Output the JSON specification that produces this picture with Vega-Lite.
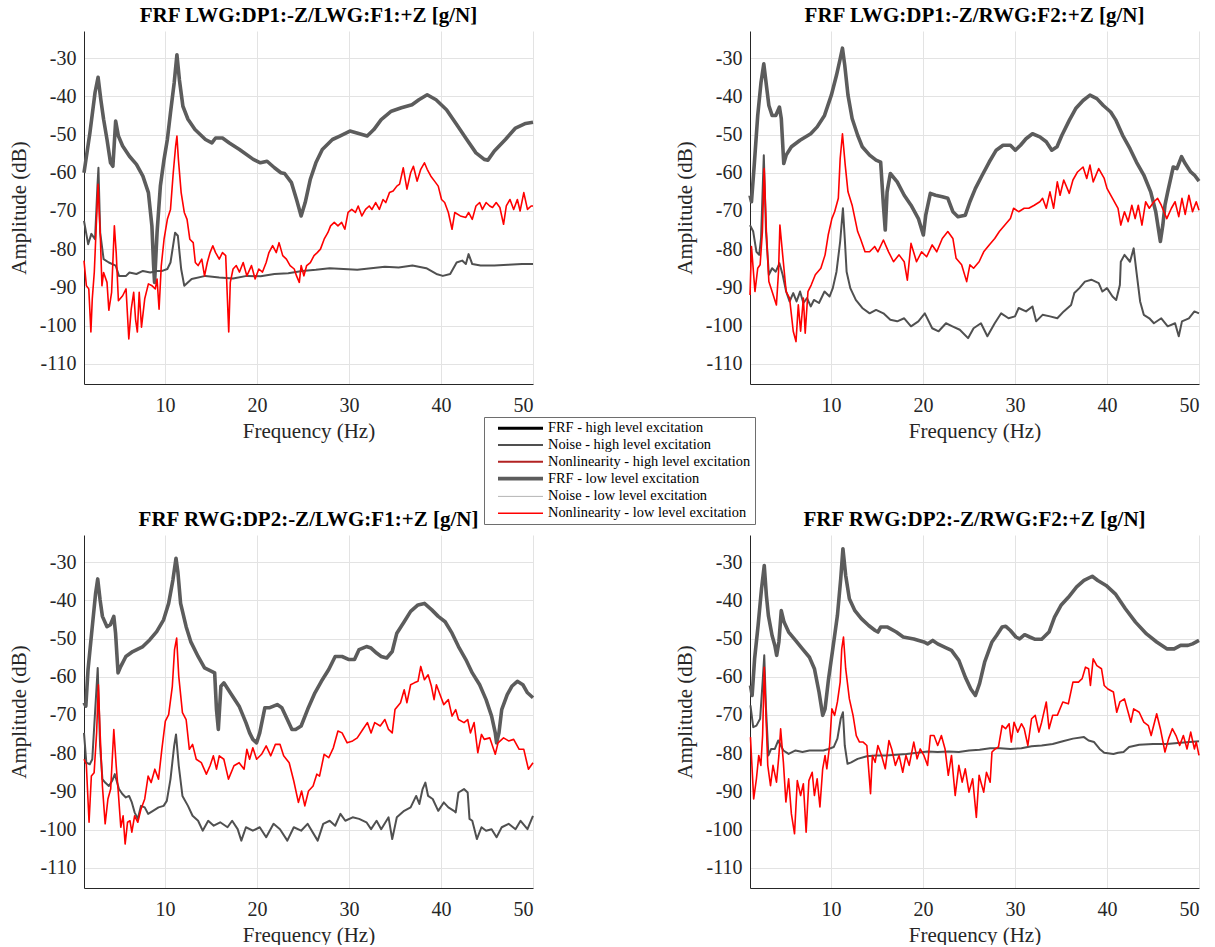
{
"$schema": "https://vega.github.io/schema/vega-lite/v6.json",
"background": "white",
"padding": {"left": 8, "top": 5, "right": 0, "bottom": 0},
"datasets": {
"p1": [
{"s":"FRF_L","f":1.2,"db":-60},{"s":"FRF_L","f":1.84,"db":-49.6},{"s":"FRF_L","f":2.4,"db":-39},{"s":"FRF_L","f":2.73,"db":-35},{"s":"FRF_L","f":3.03,"db":-40.9},{"s":"FRF_L","f":3.33,"db":-46},{"s":"FRF_L","f":3.7,"db":-51.3},{"s":"FRF_L","f":4.08,"db":-57.4},{"s":"FRF_L","f":4.34,"db":-58.3},{"s":"FRF_L","f":4.64,"db":-46.5},{"s":"FRF_L","f":4.94,"db":-50.4},{"s":"FRF_L","f":5.4,"db":-53},{"s":"FRF_L","f":6.14,"db":-55.7},{"s":"FRF_L","f":6.9,"db":-57.8},{"s":"FRF_L","f":7.6,"db":-60.9},{"s":"FRF_L","f":8.2,"db":-65.2},{"s":"FRF_L","f":8.58,"db":-73.9},{"s":"FRF_L","f":8.76,"db":-84},{"s":"FRF_L","f":8.87,"db":-88.7},{"s":"FRF_L","f":9.14,"db":-75.7},{"s":"FRF_L","f":9.5,"db":-63.5},{"s":"FRF_L","f":9.9,"db":-56.5},{"s":"FRF_L","f":10.26,"db":-51.3},{"s":"FRF_L","f":10.6,"db":-44.3},{"s":"FRF_L","f":11.0,"db":-36.5},{"s":"FRF_L","f":11.3,"db":-29.1},{"s":"FRF_L","f":11.57,"db":-35.7},{"s":"FRF_L","f":11.95,"db":-42.6},{"s":"FRF_L","f":12.5,"db":-46},{"s":"FRF_L","f":13.26,"db":-48.7},{"s":"FRF_L","f":14.4,"db":-51.3},{"s":"FRF_L","f":15.1,"db":-52.2},{"s":"FRF_L","f":15.5,"db":-50.9},{"s":"FRF_L","f":16.25,"db":-50.9},{"s":"FRF_L","f":17,"db":-52.2},{"s":"FRF_L","f":18.1,"db":-53.9},{"s":"FRF_L","f":19.6,"db":-56.5},{"s":"FRF_L","f":20.37,"db":-57.4},{"s":"FRF_L","f":21.1,"db":-57},{"s":"FRF_L","f":21.9,"db":-58.7},{"s":"FRF_L","f":22.6,"db":-60},{"s":"FRF_L","f":23,"db":-60.2},{"s":"FRF_L","f":23.75,"db":-62.6},{"s":"FRF_L","f":24.3,"db":-67},{"s":"FRF_L","f":24.8,"db":-71.3},{"s":"FRF_L","f":25.24,"db":-67.8},{"s":"FRF_L","f":25.8,"db":-61.7},{"s":"FRF_L","f":26.4,"db":-57.4},{"s":"FRF_L","f":27.1,"db":-53.9},{"s":"FRF_L","f":28.2,"db":-51.3},{"s":"FRF_L","f":29,"db":-50.4},{"s":"FRF_L","f":30.1,"db":-49.1},{"s":"FRF_L","f":30.86,"db":-49.6},{"s":"FRF_L","f":31.98,"db":-50.4},{"s":"FRF_L","f":32.7,"db":-48.7},{"s":"FRF_L","f":33.5,"db":-46.1},{"s":"FRF_L","f":34.6,"db":-43.9},{"s":"FRF_L","f":35.7,"db":-43},{"s":"FRF_L","f":36.85,"db":-42.2},{"s":"FRF_L","f":37.6,"db":-40.9},{"s":"FRF_L","f":38.5,"db":-39.6},{"s":"FRF_L","f":39.46,"db":-40.9},{"s":"FRF_L","f":40.6,"db":-43.5},{"s":"FRF_L","f":41.7,"db":-47.4},{"s":"FRF_L","f":42.8,"db":-51.3},{"s":"FRF_L","f":43.8,"db":-54.8},{"s":"FRF_L","f":44.7,"db":-56.5},{"s":"FRF_L","f":45.1,"db":-56.7},{"s":"FRF_L","f":45.8,"db":-54.3},{"s":"FRF_L","f":47,"db":-51.3},{"s":"FRF_L","f":48.1,"db":-48.3},{"s":"FRF_L","f":49.2,"db":-47.1},{"s":"FRF_L","f":50,"db":-46.8},
{"s":"NOISE_H","f":1.2,"db":-72.6},{"s":"NOISE_H","f":1.65,"db":-78.7},{"s":"NOISE_H","f":2.0,"db":-76},{"s":"NOISE_H","f":2.4,"db":-77.4},{"s":"NOISE_H","f":2.66,"db":-63.5},{"s":"NOISE_H","f":2.77,"db":-58.7},{"s":"NOISE_H","f":2.96,"db":-75.7},{"s":"NOISE_H","f":3.33,"db":-82.6},{"s":"NOISE_H","f":3.9,"db":-83.5},{"s":"NOISE_H","f":4.64,"db":-84.3},{"s":"NOISE_H","f":5.0,"db":-87},{"s":"NOISE_H","f":5.77,"db":-87},{"s":"NOISE_H","f":6.14,"db":-86.1},{"s":"NOISE_H","f":6.9,"db":-86.5},{"s":"NOISE_H","f":7.6,"db":-85.7},{"s":"NOISE_H","f":8.4,"db":-86.1},{"s":"NOISE_H","f":9.14,"db":-85.7},{"s":"NOISE_H","f":9.7,"db":-85.7},{"s":"NOISE_H","f":10.26,"db":-85.2},{"s":"NOISE_H","f":10.6,"db":-83.5},{"s":"NOISE_H","f":11.1,"db":-75.7},{"s":"NOISE_H","f":11.4,"db":-76.5},{"s":"NOISE_H","f":11.76,"db":-85.2},{"s":"NOISE_H","f":12.1,"db":-89.6},{"s":"NOISE_H","f":12.9,"db":-87.8},{"s":"NOISE_H","f":14.4,"db":-87},{"s":"NOISE_H","f":15.9,"db":-87.4},{"s":"NOISE_H","f":17.4,"db":-87.7},{"s":"NOISE_H","f":18.9,"db":-87},{"s":"NOISE_H","f":20.4,"db":-87.1},{"s":"NOISE_H","f":21.9,"db":-86.5},{"s":"NOISE_H","f":23.4,"db":-86.3},{"s":"NOISE_H","f":24.9,"db":-85.7},{"s":"NOISE_H","f":26.4,"db":-85.4},{"s":"NOISE_H","f":27.9,"db":-85},{"s":"NOISE_H","f":29.4,"db":-85.2},{"s":"NOISE_H","f":30.9,"db":-85.4},{"s":"NOISE_H","f":32.4,"db":-85},{"s":"NOISE_H","f":33.9,"db":-84.6},{"s":"NOISE_H","f":35.4,"db":-84.8},{"s":"NOISE_H","f":36.9,"db":-84.3},{"s":"NOISE_H","f":38.4,"db":-85},{"s":"NOISE_H","f":39.5,"db":-86.5},{"s":"NOISE_H","f":40.2,"db":-87},{"s":"NOISE_H","f":41,"db":-86.5},{"s":"NOISE_H","f":41.7,"db":-83.5},{"s":"NOISE_H","f":42.3,"db":-83},{"s":"NOISE_H","f":42.7,"db":-83.9},{"s":"NOISE_H","f":43.0,"db":-81.3},{"s":"NOISE_H","f":43.4,"db":-83.9},{"s":"NOISE_H","f":44.3,"db":-84.3},{"s":"NOISE_H","f":45.8,"db":-84.3},{"s":"NOISE_H","f":47.3,"db":-84.1},{"s":"NOISE_H","f":48.8,"db":-83.9},{"s":"NOISE_H","f":50,"db":-83.9},
{"s":"NL_L","f":1.2,"db":-83},{"s":"NL_L","f":1.46,"db":-89.6},{"s":"NL_L","f":1.72,"db":-90.4},{"s":"NL_L","f":1.95,"db":-101.7},{"s":"NL_L","f":2.1,"db":-93},{"s":"NL_L","f":2.32,"db":-86},{"s":"NL_L","f":2.5,"db":-75.7},{"s":"NL_L","f":2.73,"db":-63},{"s":"NL_L","f":2.96,"db":-75.7},{"s":"NL_L","f":3.15,"db":-89.6},{"s":"NL_L","f":3.33,"db":-86.1},{"s":"NL_L","f":3.7,"db":-88.7},{"s":"NL_L","f":3.9,"db":-96},{"s":"NL_L","f":4.2,"db":-91.3},{"s":"NL_L","f":4.5,"db":-73.9},{"s":"NL_L","f":4.7,"db":-80.9},{"s":"NL_L","f":4.94,"db":-93.5},{"s":"NL_L","f":5.4,"db":-92.2},{"s":"NL_L","f":5.77,"db":-90.4},{"s":"NL_L","f":6.07,"db":-103.5},{"s":"NL_L","f":6.33,"db":-95.7},{"s":"NL_L","f":6.6,"db":-91.3},{"s":"NL_L","f":6.8,"db":-98.3},{"s":"NL_L","f":7.0,"db":-101.7},{"s":"NL_L","f":7.2,"db":-91.3},{"s":"NL_L","f":7.45,"db":-100.4},{"s":"NL_L","f":7.8,"db":-93},{"s":"NL_L","f":8.2,"db":-89.1},{"s":"NL_L","f":8.6,"db":-89.6},{"s":"NL_L","f":8.95,"db":-90.4},{"s":"NL_L","f":9.14,"db":-87.8},{"s":"NL_L","f":9.36,"db":-95.7},{"s":"NL_L","f":9.6,"db":-84.3},{"s":"NL_L","f":9.9,"db":-77.4},{"s":"NL_L","f":10.26,"db":-72.2},{"s":"NL_L","f":10.6,"db":-69.6},{"s":"NL_L","f":10.9,"db":-60},{"s":"NL_L","f":11.16,"db":-53},{"s":"NL_L","f":11.3,"db":-50.4},{"s":"NL_L","f":11.46,"db":-56.5},{"s":"NL_L","f":11.76,"db":-65.2},{"s":"NL_L","f":12.1,"db":-70.4},{"s":"NL_L","f":12.4,"db":-72.2},{"s":"NL_L","f":12.7,"db":-77.4},{"s":"NL_L","f":13.07,"db":-78.3},{"s":"NL_L","f":13.3,"db":-83.5},{"s":"NL_L","f":13.6,"db":-84.3},{"s":"NL_L","f":14,"db":-82.6},{"s":"NL_L","f":14.3,"db":-87},{"s":"NL_L","f":14.6,"db":-83.5},{"s":"NL_L","f":14.9,"db":-80.9},{"s":"NL_L","f":15.2,"db":-79.1},{"s":"NL_L","f":15.5,"db":-80.9},{"s":"NL_L","f":15.9,"db":-82.6},{"s":"NL_L","f":16.25,"db":-80.9},{"s":"NL_L","f":16.6,"db":-81.7},{"s":"NL_L","f":16.93,"db":-101.7},{"s":"NL_L","f":17.1,"db":-88.7},{"s":"NL_L","f":17.4,"db":-85.2},{"s":"NL_L","f":17.75,"db":-84.3},{"s":"NL_L","f":18.1,"db":-86},{"s":"NL_L","f":18.5,"db":-83.5},{"s":"NL_L","f":18.9,"db":-87},{"s":"NL_L","f":19.4,"db":-84.3},{"s":"NL_L","f":19.8,"db":-87.8},{"s":"NL_L","f":20.2,"db":-85.2},{"s":"NL_L","f":20.6,"db":-86},{"s":"NL_L","f":21,"db":-83.5},{"s":"NL_L","f":21.3,"db":-80.9},{"s":"NL_L","f":21.7,"db":-79.1},{"s":"NL_L","f":22.1,"db":-80.9},{"s":"NL_L","f":22.4,"db":-78.3},{"s":"NL_L","f":22.8,"db":-81.7},{"s":"NL_L","f":23.2,"db":-82.6},{"s":"NL_L","f":23.6,"db":-84.3},{"s":"NL_L","f":24.05,"db":-85.2},{"s":"NL_L","f":24.3,"db":-87},{"s":"NL_L","f":24.6,"db":-88.7},{"s":"NL_L","f":24.8,"db":-84.3},{"s":"NL_L","f":25.1,"db":-87},{"s":"NL_L","f":25.4,"db":-84.3},{"s":"NL_L","f":25.8,"db":-83.5},{"s":"NL_L","f":26.2,"db":-81.7},{"s":"NL_L","f":26.55,"db":-80.9},{"s":"NL_L","f":26.9,"db":-80},{"s":"NL_L","f":27.3,"db":-77.4},{"s":"NL_L","f":27.7,"db":-75.7},{"s":"NL_L","f":28,"db":-73.9},{"s":"NL_L","f":28.4,"db":-73},{"s":"NL_L","f":28.8,"db":-73.9},{"s":"NL_L","f":29.2,"db":-73},{"s":"NL_L","f":29.55,"db":-74.8},{"s":"NL_L","f":29.9,"db":-70.4},{"s":"NL_L","f":30.3,"db":-69.6},{"s":"NL_L","f":30.7,"db":-70.4},{"s":"NL_L","f":31,"db":-68.7},{"s":"NL_L","f":31.4,"db":-71.3},{"s":"NL_L","f":31.8,"db":-69.6},{"s":"NL_L","f":32.2,"db":-68.7},{"s":"NL_L","f":32.5,"db":-69.6},{"s":"NL_L","f":32.9,"db":-67.8},{"s":"NL_L","f":33.3,"db":-69.6},{"s":"NL_L","f":33.7,"db":-67},{"s":"NL_L","f":34,"db":-67.8},{"s":"NL_L","f":34.4,"db":-65.2},{"s":"NL_L","f":34.8,"db":-64.8},{"s":"NL_L","f":35.2,"db":-63.5},{"s":"NL_L","f":35.5,"db":-63},{"s":"NL_L","f":35.9,"db":-58.7},{"s":"NL_L","f":36.3,"db":-64.3},{"s":"NL_L","f":36.7,"db":-60},{"s":"NL_L","f":37,"db":-58.3},{"s":"NL_L","f":37.4,"db":-62.2},{"s":"NL_L","f":37.8,"db":-59.1},{"s":"NL_L","f":38.2,"db":-57.4},{"s":"NL_L","f":38.5,"db":-59.1},{"s":"NL_L","f":38.9,"db":-60.9},{"s":"NL_L","f":39.3,"db":-62.2},{"s":"NL_L","f":39.7,"db":-63.5},{"s":"NL_L","f":40.06,"db":-67},{"s":"NL_L","f":40.4,"db":-67.8},{"s":"NL_L","f":40.8,"db":-70.4},{"s":"NL_L","f":41.2,"db":-74.8},{"s":"NL_L","f":41.5,"db":-70.4},{"s":"NL_L","f":42.1,"db":-71.3},{"s":"NL_L","f":42.7,"db":-71.7},{"s":"NL_L","f":43,"db":-70.4},{"s":"NL_L","f":43.4,"db":-72.2},{"s":"NL_L","f":43.8,"db":-68.7},{"s":"NL_L","f":44.2,"db":-67.8},{"s":"NL_L","f":44.5,"db":-69.6},{"s":"NL_L","f":44.9,"db":-67.8},{"s":"NL_L","f":45.3,"db":-68.7},{"s":"NL_L","f":45.6,"db":-69.1},{"s":"NL_L","f":46,"db":-67.8},{"s":"NL_L","f":46.4,"db":-69.1},{"s":"NL_L","f":46.8,"db":-73.5},{"s":"NL_L","f":47.1,"db":-68.7},{"s":"NL_L","f":47.5,"db":-67},{"s":"NL_L","f":47.9,"db":-69.6},{"s":"NL_L","f":48.3,"db":-67},{"s":"NL_L","f":48.6,"db":-70},{"s":"NL_L","f":49,"db":-65.2},{"s":"NL_L","f":49.4,"db":-69.6},{"s":"NL_L","f":49.8,"db":-68.7},{"s":"NL_L","f":50,"db":-68.7}
],
"p2": [
{"s":"FRF_L","f":1.2,"db":-65.9},{"s":"FRF_L","f":1.36,"db":-67.6},{"s":"FRF_L","f":1.66,"db":-58},{"s":"FRF_L","f":2.04,"db":-45},{"s":"FRF_L","f":2.4,"db":-36.3},{"s":"FRF_L","f":2.7,"db":-31.5},{"s":"FRF_L","f":2.98,"db":-37.1},{"s":"FRF_L","f":3.25,"db":-42.4},{"s":"FRF_L","f":3.6,"db":-45},{"s":"FRF_L","f":4,"db":-45},{"s":"FRF_L","f":4.4,"db":-42.8},{"s":"FRF_L","f":4.6,"db":-45.8},{"s":"FRF_L","f":4.87,"db":-57.6},{"s":"FRF_L","f":5.13,"db":-55.4},{"s":"FRF_L","f":5.7,"db":-53.2},{"s":"FRF_L","f":6.64,"db":-51.5},{"s":"FRF_L","f":7.8,"db":-49.8},{"s":"FRF_L","f":8.5,"db":-48},{"s":"FRF_L","f":9.3,"db":-45},{"s":"FRF_L","f":10.04,"db":-39.7},{"s":"FRF_L","f":10.6,"db":-34.5},{"s":"FRF_L","f":11,"db":-30.2},{"s":"FRF_L","f":11.25,"db":-27.4},{"s":"FRF_L","f":11.5,"db":-31.9},{"s":"FRF_L","f":11.85,"db":-39.7},{"s":"FRF_L","f":12.3,"db":-45.8},{"s":"FRF_L","f":12.9,"db":-50.2},{"s":"FRF_L","f":13.4,"db":-53.2},{"s":"FRF_L","f":14.2,"db":-55.4},{"s":"FRF_L","f":14.9,"db":-56.7},{"s":"FRF_L","f":15.4,"db":-57.2},{"s":"FRF_L","f":15.7,"db":-68.5},{"s":"FRF_L","f":15.9,"db":-75},{"s":"FRF_L","f":16.1,"db":-65},{"s":"FRF_L","f":16.45,"db":-60.2},{"s":"FRF_L","f":17.2,"db":-62.4},{"s":"FRF_L","f":17.96,"db":-65.9},{"s":"FRF_L","f":18.7,"db":-68.5},{"s":"FRF_L","f":19.5,"db":-72},{"s":"FRF_L","f":20.04,"db":-76.3},{"s":"FRF_L","f":20.3,"db":-71.1},{"s":"FRF_L","f":20.8,"db":-65.4},{"s":"FRF_L","f":21.36,"db":-65.9},{"s":"FRF_L","f":22.1,"db":-66.3},{"s":"FRF_L","f":22.7,"db":-66.7},{"s":"FRF_L","f":23.25,"db":-70.2},{"s":"FRF_L","f":23.8,"db":-71.5},{"s":"FRF_L","f":24.6,"db":-71.1},{"s":"FRF_L","f":25.1,"db":-67.6},{"s":"FRF_L","f":25.7,"db":-64.1},{"s":"FRF_L","f":26.45,"db":-60.6},{"s":"FRF_L","f":27.2,"db":-57.2},{"s":"FRF_L","f":27.96,"db":-54.1},{"s":"FRF_L","f":28.7,"db":-52.8},{"s":"FRF_L","f":29.5,"db":-52.8},{"s":"FRF_L","f":30.04,"db":-54.1},{"s":"FRF_L","f":30.6,"db":-52.8},{"s":"FRF_L","f":31.2,"db":-51.1},{"s":"FRF_L","f":31.9,"db":-49.8},{"s":"FRF_L","f":32.7,"db":-50.6},{"s":"FRF_L","f":33.4,"db":-51.9},{"s":"FRF_L","f":34,"db":-54.1},{"s":"FRF_L","f":34.57,"db":-53.2},{"s":"FRF_L","f":35.1,"db":-50.2},{"s":"FRF_L","f":35.9,"db":-46.3},{"s":"FRF_L","f":36.6,"db":-43.2},{"s":"FRF_L","f":37.4,"db":-41.1},{"s":"FRF_L","f":38.15,"db":-39.7},{"s":"FRF_L","f":38.9,"db":-40.6},{"s":"FRF_L","f":39.6,"db":-42.4},{"s":"FRF_L","f":40.4,"db":-44.1},{"s":"FRF_L","f":40.98,"db":-46.3},{"s":"FRF_L","f":41.7,"db":-50.2},{"s":"FRF_L","f":42.5,"db":-53.7},{"s":"FRF_L","f":43.2,"db":-57.2},{"s":"FRF_L","f":44,"db":-60.6},{"s":"FRF_L","f":44.75,"db":-65},{"s":"FRF_L","f":45.3,"db":-70.2},{"s":"FRF_L","f":45.8,"db":-78},{"s":"FRF_L","f":46.07,"db":-73.7},{"s":"FRF_L","f":46.3,"db":-68.5},{"s":"FRF_L","f":46.6,"db":-65},{"s":"FRF_L","f":47.2,"db":-58.5},{"s":"FRF_L","f":47.6,"db":-58.9},{"s":"FRF_L","f":48.1,"db":-55.8},{"s":"FRF_L","f":48.5,"db":-57.6},{"s":"FRF_L","f":49.1,"db":-59.8},{"s":"FRF_L","f":49.5,"db":-60.6},{"s":"FRF_L","f":50,"db":-62.2},
{"s":"NOISE_H","f":1.2,"db":-73.7},{"s":"NOISE_H","f":1.55,"db":-75.4},{"s":"NOISE_H","f":1.9,"db":-80.7},{"s":"NOISE_H","f":2.2,"db":-81.5},{"s":"NOISE_H","f":2.4,"db":-77.2},{"s":"NOISE_H","f":2.7,"db":-55.4},{"s":"NOISE_H","f":2.94,"db":-75.4},{"s":"NOISE_H","f":3.25,"db":-86.7},{"s":"NOISE_H","f":3.6,"db":-85},{"s":"NOISE_H","f":4,"db":-85.9},{"s":"NOISE_H","f":4.4,"db":-83.7},{"s":"NOISE_H","f":4.75,"db":-86.7},{"s":"NOISE_H","f":5.13,"db":-91.1},{"s":"NOISE_H","f":5.5,"db":-93.7},{"s":"NOISE_H","f":5.9,"db":-91.5},{"s":"NOISE_H","f":6.26,"db":-93.7},{"s":"NOISE_H","f":6.64,"db":-91.1},{"s":"NOISE_H","f":7,"db":-94.1},{"s":"NOISE_H","f":7.4,"db":-92.8},{"s":"NOISE_H","f":7.8,"db":-95},{"s":"NOISE_H","f":8.15,"db":-93.3},{"s":"NOISE_H","f":8.7,"db":-94.1},{"s":"NOISE_H","f":9.3,"db":-91.1},{"s":"NOISE_H","f":9.85,"db":-92.4},{"s":"NOISE_H","f":10.2,"db":-90.2},{"s":"NOISE_H","f":10.6,"db":-85.9},{"s":"NOISE_H","f":11,"db":-78},{"s":"NOISE_H","f":11.3,"db":-69.3},{"s":"NOISE_H","f":11.5,"db":-77.2},{"s":"NOISE_H","f":11.7,"db":-85.9},{"s":"NOISE_H","f":12.1,"db":-90.2},{"s":"NOISE_H","f":12.7,"db":-93.3},{"s":"NOISE_H","f":13.4,"db":-95.4},{"s":"NOISE_H","f":14.2,"db":-96.8},{"s":"NOISE_H","f":14.9,"db":-95.9},{"s":"NOISE_H","f":15.7,"db":-96.8},{"s":"NOISE_H","f":16.45,"db":-98.5},{"s":"NOISE_H","f":17.2,"db":-98.9},{"s":"NOISE_H","f":17.96,"db":-98.1},{"s":"NOISE_H","f":18.7,"db":-100.2},{"s":"NOISE_H","f":19.5,"db":-98.9},{"s":"NOISE_H","f":20.2,"db":-96.8},{"s":"NOISE_H","f":21,"db":-100.7},{"s":"NOISE_H","f":21.7,"db":-101.5},{"s":"NOISE_H","f":22.5,"db":-99.4},{"s":"NOISE_H","f":23.2,"db":-100.2},{"s":"NOISE_H","f":24,"db":-101.1},{"s":"NOISE_H","f":24.9,"db":-103.3},{"s":"NOISE_H","f":25.5,"db":-100.7},{"s":"NOISE_H","f":26.3,"db":-99.4},{"s":"NOISE_H","f":27,"db":-102.8},{"s":"NOISE_H","f":27.8,"db":-99.4},{"s":"NOISE_H","f":28.5,"db":-96.8},{"s":"NOISE_H","f":29.3,"db":-98.1},{"s":"NOISE_H","f":30,"db":-97.6},{"s":"NOISE_H","f":30.4,"db":-95.4},{"s":"NOISE_H","f":31.2,"db":-96.3},{"s":"NOISE_H","f":31.9,"db":-95},{"s":"NOISE_H","f":32.3,"db":-98.9},{"s":"NOISE_H","f":33,"db":-97.2},{"s":"NOISE_H","f":33.8,"db":-97.6},{"s":"NOISE_H","f":34.6,"db":-98.1},{"s":"NOISE_H","f":35.3,"db":-96.3},{"s":"NOISE_H","f":36.1,"db":-94.6},{"s":"NOISE_H","f":36.45,"db":-91.5},{"s":"NOISE_H","f":37,"db":-90.2},{"s":"NOISE_H","f":37.6,"db":-88.5},{"s":"NOISE_H","f":38.3,"db":-88},{"s":"NOISE_H","f":39.1,"db":-88.9},{"s":"NOISE_H","f":39.5,"db":-91.1},{"s":"NOISE_H","f":40,"db":-90.2},{"s":"NOISE_H","f":40.6,"db":-92.4},{"s":"NOISE_H","f":41,"db":-93.3},{"s":"NOISE_H","f":41.4,"db":-89.4},{"s":"NOISE_H","f":41.5,"db":-83.3},{"s":"NOISE_H","f":41.9,"db":-81.5},{"s":"NOISE_H","f":42.5,"db":-83.3},{"s":"NOISE_H","f":42.9,"db":-79.8},{"s":"NOISE_H","f":43.2,"db":-85.9},{"s":"NOISE_H","f":43.6,"db":-93.7},{"s":"NOISE_H","f":44,"db":-97.2},{"s":"NOISE_H","f":44.6,"db":-98.1},{"s":"NOISE_H","f":45.1,"db":-99.4},{"s":"NOISE_H","f":45.9,"db":-98.1},{"s":"NOISE_H","f":46.6,"db":-100.2},{"s":"NOISE_H","f":47.4,"db":-99.4},{"s":"NOISE_H","f":47.8,"db":-102.8},{"s":"NOISE_H","f":48.15,"db":-98.9},{"s":"NOISE_H","f":48.9,"db":-98.1},{"s":"NOISE_H","f":49.5,"db":-96.3},{"s":"NOISE_H","f":50,"db":-96.8},
{"s":"NL_L","f":1.2,"db":-92},{"s":"NL_L","f":1.36,"db":-79.3},{"s":"NL_L","f":1.74,"db":-91.1},{"s":"NL_L","f":2.04,"db":-85},{"s":"NL_L","f":2.3,"db":-84.1},{"s":"NL_L","f":2.55,"db":-75.4},{"s":"NL_L","f":2.74,"db":-58.9},{"s":"NL_L","f":2.98,"db":-75.4},{"s":"NL_L","f":3.25,"db":-88.5},{"s":"NL_L","f":3.6,"db":-91.1},{"s":"NL_L","f":4.07,"db":-94.6},{"s":"NL_L","f":4.3,"db":-85.9},{"s":"NL_L","f":4.45,"db":-73.7},{"s":"NL_L","f":4.75,"db":-81.5},{"s":"NL_L","f":5.13,"db":-91.1},{"s":"NL_L","f":5.5,"db":-92.8},{"s":"NL_L","f":5.9,"db":-101.5},{"s":"NL_L","f":6.2,"db":-104.2},{"s":"NL_L","f":6.45,"db":-94.6},{"s":"NL_L","f":6.7,"db":-101.5},{"s":"NL_L","f":7,"db":-92.8},{"s":"NL_L","f":7.2,"db":-102},{"s":"NL_L","f":7.5,"db":-91.1},{"s":"NL_L","f":7.85,"db":-89.4},{"s":"NL_L","f":8.3,"db":-86.7},{"s":"NL_L","f":8.9,"db":-85},{"s":"NL_L","f":9.36,"db":-81.5},{"s":"NL_L","f":9.7,"db":-76.3},{"s":"NL_L","f":10.1,"db":-72},{"s":"NL_L","f":10.4,"db":-70.2},{"s":"NL_L","f":10.8,"db":-66.7},{"s":"NL_L","f":11,"db":-56.3},{"s":"NL_L","f":11.25,"db":-49.8},{"s":"NL_L","f":11.55,"db":-58},{"s":"NL_L","f":11.85,"db":-65},{"s":"NL_L","f":12.3,"db":-68.5},{"s":"NL_L","f":12.9,"db":-75.4},{"s":"NL_L","f":13.2,"db":-77.2},{"s":"NL_L","f":13.7,"db":-80.7},{"s":"NL_L","f":14.2,"db":-80.7},{"s":"NL_L","f":14.75,"db":-79.3},{"s":"NL_L","f":15.1,"db":-80.7},{"s":"NL_L","f":15.7,"db":-77.6},{"s":"NL_L","f":16.26,"db":-80.7},{"s":"NL_L","f":16.8,"db":-83.3},{"s":"NL_L","f":17.4,"db":-81.5},{"s":"NL_L","f":17.96,"db":-83.3},{"s":"NL_L","f":18.3,"db":-88.1},{"s":"NL_L","f":18.7,"db":-78.5},{"s":"NL_L","f":19.3,"db":-83.3},{"s":"NL_L","f":19.85,"db":-80.7},{"s":"NL_L","f":20.4,"db":-82},{"s":"NL_L","f":21,"db":-78.9},{"s":"NL_L","f":21.5,"db":-80.7},{"s":"NL_L","f":22.1,"db":-77.2},{"s":"NL_L","f":22.7,"db":-75.4},{"s":"NL_L","f":23.25,"db":-77.2},{"s":"NL_L","f":23.6,"db":-82.4},{"s":"NL_L","f":24.2,"db":-84.1},{"s":"NL_L","f":24.75,"db":-88.5},{"s":"NL_L","f":25.1,"db":-84.1},{"s":"NL_L","f":25.5,"db":-85},{"s":"NL_L","f":26.1,"db":-83.3},{"s":"NL_L","f":26.6,"db":-80.7},{"s":"NL_L","f":27.2,"db":-78.9},{"s":"NL_L","f":27.8,"db":-77.2},{"s":"NL_L","f":28.3,"db":-75.4},{"s":"NL_L","f":28.9,"db":-73.7},{"s":"NL_L","f":29.5,"db":-72},{"s":"NL_L","f":29.85,"db":-69.3},{"s":"NL_L","f":30.4,"db":-70.2},{"s":"NL_L","f":31,"db":-69.3},{"s":"NL_L","f":31.5,"db":-69.3},{"s":"NL_L","f":32.1,"db":-68.5},{"s":"NL_L","f":32.7,"db":-67.6},{"s":"NL_L","f":33,"db":-66.7},{"s":"NL_L","f":33.4,"db":-69.3},{"s":"NL_L","f":33.8,"db":-65},{"s":"NL_L","f":34.2,"db":-69.3},{"s":"NL_L","f":34.6,"db":-62.4},{"s":"NL_L","f":34.9,"db":-65.9},{"s":"NL_L","f":35.3,"db":-61.9},{"s":"NL_L","f":35.9,"db":-65.4},{"s":"NL_L","f":36.3,"db":-61.9},{"s":"NL_L","f":36.8,"db":-59.8},{"s":"NL_L","f":37.4,"db":-58.5},{"s":"NL_L","f":37.8,"db":-61.5},{"s":"NL_L","f":38.15,"db":-58},{"s":"NL_L","f":38.5,"db":-62.4},{"s":"NL_L","f":39.1,"db":-58.9},{"s":"NL_L","f":39.7,"db":-61.5},{"s":"NL_L","f":40,"db":-64.1},{"s":"NL_L","f":40.6,"db":-66.7},{"s":"NL_L","f":41.2,"db":-69.3},{"s":"NL_L","f":41.5,"db":-73.7},{"s":"NL_L","f":41.9,"db":-70.2},{"s":"NL_L","f":42.3,"db":-72.8},{"s":"NL_L","f":42.7,"db":-68.5},{"s":"NL_L","f":43.06,"db":-72},{"s":"NL_L","f":43.4,"db":-68.5},{"s":"NL_L","f":43.8,"db":-73.7},{"s":"NL_L","f":44.2,"db":-67.6},{"s":"NL_L","f":44.6,"db":-69.3},{"s":"NL_L","f":45.1,"db":-67.6},{"s":"NL_L","f":45.5,"db":-66.7},{"s":"NL_L","f":45.9,"db":-68.5},{"s":"NL_L","f":46.5,"db":-72},{"s":"NL_L","f":47,"db":-69.3},{"s":"NL_L","f":47.4,"db":-67.6},{"s":"NL_L","f":47.8,"db":-71.5},{"s":"NL_L","f":48.15,"db":-66.7},{"s":"NL_L","f":48.5,"db":-70.9},{"s":"NL_L","f":48.9,"db":-65.9},{"s":"NL_L","f":49.3,"db":-70.2},{"s":"NL_L","f":49.7,"db":-67.6},{"s":"NL_L","f":50,"db":-69.8}
],
"p3": [
{"s":"FRF_L","f":1.2,"db":-66.8},{"s":"FRF_L","f":1.4,"db":-67.7},{"s":"FRF_L","f":1.64,"db":-58.1},{"s":"FRF_L","f":2.1,"db":-46.9},{"s":"FRF_L","f":2.46,"db":-38.2},{"s":"FRF_L","f":2.69,"db":-34.4},{"s":"FRF_L","f":2.95,"db":-39.9},{"s":"FRF_L","f":3.2,"db":-44.2},{"s":"FRF_L","f":3.7,"db":-46.9},{"s":"FRF_L","f":4.07,"db":-46.4},{"s":"FRF_L","f":4.44,"db":-44.2},{"s":"FRF_L","f":4.63,"db":-48.6},{"s":"FRF_L","f":4.9,"db":-59},{"s":"FRF_L","f":5.2,"db":-57.3},{"s":"FRF_L","f":5.75,"db":-54.7},{"s":"FRF_L","f":6.5,"db":-53.4},{"s":"FRF_L","f":7.6,"db":-52.1},{"s":"FRF_L","f":8.36,"db":-50.3},{"s":"FRF_L","f":9.1,"db":-48.2},{"s":"FRF_L","f":9.85,"db":-45.1},{"s":"FRF_L","f":10.4,"db":-40.8},{"s":"FRF_L","f":10.86,"db":-34.7},{"s":"FRF_L","f":11.2,"db":-29},{"s":"FRF_L","f":11.4,"db":-32.5},{"s":"FRF_L","f":11.7,"db":-40.8},{"s":"FRF_L","f":12.3,"db":-46.9},{"s":"FRF_L","f":12.8,"db":-50.8},{"s":"FRF_L","f":13.6,"db":-54.7},{"s":"FRF_L","f":14.3,"db":-57.7},{"s":"FRF_L","f":15.07,"db":-58.6},{"s":"FRF_L","f":15.4,"db":-59},{"s":"FRF_L","f":15.6,"db":-68.6},{"s":"FRF_L","f":15.8,"db":-73.8},{"s":"FRF_L","f":16.08,"db":-62.5},{"s":"FRF_L","f":16.4,"db":-61.6},{"s":"FRF_L","f":17.1,"db":-64.2},{"s":"FRF_L","f":18.06,"db":-67.7},{"s":"FRF_L","f":18.8,"db":-72},{"s":"FRF_L","f":19.2,"db":-74.7},{"s":"FRF_L","f":19.55,"db":-76.4},{"s":"FRF_L","f":19.96,"db":-77.3},{"s":"FRF_L","f":20.3,"db":-74.7},{"s":"FRF_L","f":20.86,"db":-68.1},{"s":"FRF_L","f":21.4,"db":-68.1},{"s":"FRF_L","f":22.2,"db":-67.3},{"s":"FRF_L","f":22.7,"db":-68.1},{"s":"FRF_L","f":23.3,"db":-71.2},{"s":"FRF_L","f":23.8,"db":-73.8},{"s":"FRF_L","f":24.2,"db":-73.8},{"s":"FRF_L","f":24.8,"db":-72.9},{"s":"FRF_L","f":25.5,"db":-68.6},{"s":"FRF_L","f":26.3,"db":-64.2},{"s":"FRF_L","f":27,"db":-61.2},{"s":"FRF_L","f":27.8,"db":-58.1},{"s":"FRF_L","f":28.5,"db":-54.7},{"s":"FRF_L","f":29.25,"db":-54.7},{"s":"FRF_L","f":30,"db":-55.5},{"s":"FRF_L","f":30.6,"db":-55.5},{"s":"FRF_L","f":31.1,"db":-52.9},{"s":"FRF_L","f":31.9,"db":-52.1},{"s":"FRF_L","f":32.4,"db":-52.5},{"s":"FRF_L","f":33,"db":-53.8},{"s":"FRF_L","f":33.5,"db":-54.7},{"s":"FRF_L","f":34.1,"db":-55.1},{"s":"FRF_L","f":34.7,"db":-53.4},{"s":"FRF_L","f":35.2,"db":-48.6},{"s":"FRF_L","f":36,"db":-45.6},{"s":"FRF_L","f":36.7,"db":-42.9},{"s":"FRF_L","f":37.5,"db":-41.2},{"s":"FRF_L","f":38.2,"db":-40.8},{"s":"FRF_L","f":39,"db":-42.5},{"s":"FRF_L","f":39.7,"db":-44.2},{"s":"FRF_L","f":40.45,"db":-45.6},{"s":"FRF_L","f":41.2,"db":-48.6},{"s":"FRF_L","f":41.9,"db":-52.1},{"s":"FRF_L","f":42.7,"db":-55.5},{"s":"FRF_L","f":43.4,"db":-59},{"s":"FRF_L","f":44.2,"db":-62.1},{"s":"FRF_L","f":44.9,"db":-66},{"s":"FRF_L","f":45.5,"db":-70.3},{"s":"FRF_L","f":45.9,"db":-74.7},{"s":"FRF_L","f":46.04,"db":-77.3},{"s":"FRF_L","f":46.3,"db":-74.7},{"s":"FRF_L","f":46.6,"db":-68.6},{"s":"FRF_L","f":47.2,"db":-64.7},{"s":"FRF_L","f":47.7,"db":-62.5},{"s":"FRF_L","f":48.3,"db":-61.2},{"s":"FRF_L","f":48.9,"db":-62.1},{"s":"FRF_L","f":49.4,"db":-64.2},{"s":"FRF_L","f":50,"db":-65.5},
{"s":"NOISE_H","f":1.2,"db":-74.7},{"s":"NOISE_H","f":1.45,"db":-82.5},{"s":"NOISE_H","f":1.83,"db":-82.9},{"s":"NOISE_H","f":2.1,"db":-81.6},{"s":"NOISE_H","f":2.4,"db":-69.4},{"s":"NOISE_H","f":2.69,"db":-57.7},{"s":"NOISE_H","f":2.95,"db":-78.1},{"s":"NOISE_H","f":3.2,"db":-86.8},{"s":"NOISE_H","f":3.5,"db":-87.7},{"s":"NOISE_H","f":3.9,"db":-88.6},{"s":"NOISE_H","f":4.25,"db":-87.3},{"s":"NOISE_H","f":4.55,"db":-85.5},{"s":"NOISE_H","f":5,"db":-89.4},{"s":"NOISE_H","f":5.37,"db":-90.7},{"s":"NOISE_H","f":5.75,"db":-91.6},{"s":"NOISE_H","f":6.1,"db":-91.2},{"s":"NOISE_H","f":6.4,"db":-92.9},{"s":"NOISE_H","f":6.7,"db":-95.5},{"s":"NOISE_H","f":7.05,"db":-97.2},{"s":"NOISE_H","f":7.4,"db":-93.8},{"s":"NOISE_H","f":7.8,"db":-94.2},{"s":"NOISE_H","f":8.17,"db":-95.9},{"s":"NOISE_H","f":8.7,"db":-95.1},{"s":"NOISE_H","f":9.3,"db":-94.2},{"s":"NOISE_H","f":9.85,"db":-93.8},{"s":"NOISE_H","f":10.2,"db":-92.5},{"s":"NOISE_H","f":10.6,"db":-86.8},{"s":"NOISE_H","f":11,"db":-78.1},{"s":"NOISE_H","f":11.2,"db":-75.1},{"s":"NOISE_H","f":11.5,"db":-83.3},{"s":"NOISE_H","f":11.9,"db":-91.2},{"s":"NOISE_H","f":12.5,"db":-93.8},{"s":"NOISE_H","f":13,"db":-96.4},{"s":"NOISE_H","f":13.6,"db":-97.7},{"s":"NOISE_H","f":14.1,"db":-100.3},{"s":"NOISE_H","f":14.7,"db":-97.7},{"s":"NOISE_H","f":15.3,"db":-99},{"s":"NOISE_H","f":16,"db":-98.1},{"s":"NOISE_H","f":16.8,"db":-99.4},{"s":"NOISE_H","f":17.3,"db":-97.7},{"s":"NOISE_H","f":17.9,"db":-99.9},{"s":"NOISE_H","f":18.3,"db":-102.9},{"s":"NOISE_H","f":18.8,"db":-99.4},{"s":"NOISE_H","f":19.55,"db":-100.3},{"s":"NOISE_H","f":20.3,"db":-99.4},{"s":"NOISE_H","f":21,"db":-102},{"s":"NOISE_H","f":21.8,"db":-98.5},{"s":"NOISE_H","f":22.5,"db":-99.9},{"s":"NOISE_H","f":23.3,"db":-102.9},{"s":"NOISE_H","f":24,"db":-99.4},{"s":"NOISE_H","f":24.8,"db":-100.3},{"s":"NOISE_H","f":25.5,"db":-98.5},{"s":"NOISE_H","f":26.6,"db":-102.9},{"s":"NOISE_H","f":27.2,"db":-98.5},{"s":"NOISE_H","f":27.9,"db":-97.7},{"s":"NOISE_H","f":28.5,"db":-99},{"s":"NOISE_H","f":29.07,"db":-95.9},{"s":"NOISE_H","f":29.6,"db":-97.7},{"s":"NOISE_H","f":30.4,"db":-96.8},{"s":"NOISE_H","f":31.1,"db":-97.2},{"s":"NOISE_H","f":31.9,"db":-98.1},{"s":"NOISE_H","f":32.4,"db":-99.9},{"s":"NOISE_H","f":33,"db":-97.7},{"s":"NOISE_H","f":33.5,"db":-99.9},{"s":"NOISE_H","f":34.3,"db":-96.8},{"s":"NOISE_H","f":34.7,"db":-102.5},{"s":"NOISE_H","f":35.2,"db":-96.8},{"s":"NOISE_H","f":36,"db":-95.1},{"s":"NOISE_H","f":36.7,"db":-94.2},{"s":"NOISE_H","f":37.3,"db":-91.2},{"s":"NOISE_H","f":37.65,"db":-93.3},{"s":"NOISE_H","f":38,"db":-89.4},{"s":"NOISE_H","f":38.3,"db":-87.7},{"s":"NOISE_H","f":38.6,"db":-91.2},{"s":"NOISE_H","f":39.1,"db":-92},{"s":"NOISE_H","f":39.7,"db":-95.1},{"s":"NOISE_H","f":40.3,"db":-92.9},{"s":"NOISE_H","f":40.8,"db":-94.2},{"s":"NOISE_H","f":41.4,"db":-95.1},{"s":"NOISE_H","f":41.6,"db":-95.5},{"s":"NOISE_H","f":41.9,"db":-90.3},{"s":"NOISE_H","f":42.5,"db":-89.4},{"s":"NOISE_H","f":42.9,"db":-90.3},{"s":"NOISE_H","f":43.1,"db":-97.2},{"s":"NOISE_H","f":43.4,"db":-97.7},{"s":"NOISE_H","f":43.9,"db":-102.5},{"s":"NOISE_H","f":44.4,"db":-99.4},{"s":"NOISE_H","f":44.9,"db":-100.3},{"s":"NOISE_H","f":45.5,"db":-99.9},{"s":"NOISE_H","f":46.04,"db":-102},{"s":"NOISE_H","f":46.6,"db":-99.4},{"s":"NOISE_H","f":47.35,"db":-98.5},{"s":"NOISE_H","f":48.1,"db":-99.9},{"s":"NOISE_H","f":48.65,"db":-97.7},{"s":"NOISE_H","f":49.4,"db":-99.9},{"s":"NOISE_H","f":50,"db":-96.4},
{"s":"NL_L","f":1.2,"db":-81.6},{"s":"NL_L","f":1.45,"db":-82.9},{"s":"NL_L","f":1.75,"db":-98.1},{"s":"NL_L","f":2,"db":-86},{"s":"NL_L","f":2.3,"db":-85.1},{"s":"NL_L","f":2.57,"db":-74.7},{"s":"NL_L","f":2.76,"db":-62.1},{"s":"NL_L","f":2.95,"db":-74.7},{"s":"NL_L","f":3.2,"db":-88.6},{"s":"NL_L","f":3.5,"db":-98.5},{"s":"NL_L","f":3.8,"db":-92},{"s":"NL_L","f":4.1,"db":-89.4},{"s":"NL_L","f":4.44,"db":-73.8},{"s":"NL_L","f":4.7,"db":-83.3},{"s":"NL_L","f":4.9,"db":-89.4},{"s":"NL_L","f":5.2,"db":-99.4},{"s":"NL_L","f":5.45,"db":-96.4},{"s":"NL_L","f":5.67,"db":-103.8},{"s":"NL_L","f":5.93,"db":-98.1},{"s":"NL_L","f":6.2,"db":-97.7},{"s":"NL_L","f":6.4,"db":-100.7},{"s":"NL_L","f":6.7,"db":-96.4},{"s":"NL_L","f":7.05,"db":-98.1},{"s":"NL_L","f":7.4,"db":-94.6},{"s":"NL_L","f":7.8,"db":-92},{"s":"NL_L","f":8.17,"db":-86},{"s":"NL_L","f":8.5,"db":-87.7},{"s":"NL_L","f":8.9,"db":-84.2},{"s":"NL_L","f":9.3,"db":-86.8},{"s":"NL_L","f":9.66,"db":-79},{"s":"NL_L","f":10.04,"db":-71.6},{"s":"NL_L","f":10.4,"db":-69.9},{"s":"NL_L","f":10.8,"db":-62.5},{"s":"NL_L","f":11.04,"db":-52.9},{"s":"NL_L","f":11.27,"db":-49.9},{"s":"NL_L","f":11.5,"db":-59.9},{"s":"NL_L","f":11.9,"db":-69.4},{"s":"NL_L","f":12.3,"db":-71.2},{"s":"NL_L","f":12.65,"db":-79},{"s":"NL_L","f":13,"db":-77.7},{"s":"NL_L","f":13.4,"db":-81.6},{"s":"NL_L","f":13.95,"db":-82.5},{"s":"NL_L","f":14.5,"db":-85.5},{"s":"NL_L","f":14.9,"db":-83.3},{"s":"NL_L","f":15.26,"db":-80.7},{"s":"NL_L","f":15.6,"db":-84.2},{"s":"NL_L","f":15.9,"db":-80.7},{"s":"NL_L","f":16.4,"db":-81.6},{"s":"NL_L","f":16.9,"db":-86.8},{"s":"NL_L","f":17.5,"db":-83.3},{"s":"NL_L","f":18.06,"db":-82.5},{"s":"NL_L","f":18.6,"db":-84.2},{"s":"NL_L","f":18.9,"db":-79},{"s":"NL_L","f":19.2,"db":-81.6},{"s":"NL_L","f":19.55,"db":-78.6},{"s":"NL_L","f":19.96,"db":-81.6},{"s":"NL_L","f":20.5,"db":-80.3},{"s":"NL_L","f":21,"db":-78.1},{"s":"NL_L","f":21.5,"db":-80.7},{"s":"NL_L","f":22,"db":-77.7},{"s":"NL_L","f":22.5,"db":-77.7},{"s":"NL_L","f":22.9,"db":-80.7},{"s":"NL_L","f":23.5,"db":-82.5},{"s":"NL_L","f":24,"db":-87.3},{"s":"NL_L","f":24.5,"db":-92.9},{"s":"NL_L","f":24.85,"db":-89.9},{"s":"NL_L","f":25.2,"db":-93.8},{"s":"NL_L","f":25.6,"db":-89.9},{"s":"NL_L","f":26.1,"db":-88.6},{"s":"NL_L","f":26.5,"db":-85.5},{"s":"NL_L","f":26.8,"db":-86},{"s":"NL_L","f":27.3,"db":-80.3},{"s":"NL_L","f":27.8,"db":-81.2},{"s":"NL_L","f":28.3,"db":-78.6},{"s":"NL_L","f":28.8,"db":-74.2},{"s":"NL_L","f":29.25,"db":-74.7},{"s":"NL_L","f":29.8,"db":-77.3},{"s":"NL_L","f":30.4,"db":-76.8},{"s":"NL_L","f":30.9,"db":-76},{"s":"NL_L","f":31.5,"db":-73.8},{"s":"NL_L","f":32,"db":-72},{"s":"NL_L","f":32.4,"db":-74.7},{"s":"NL_L","f":32.8,"db":-72},{"s":"NL_L","f":33.4,"db":-72.9},{"s":"NL_L","f":33.9,"db":-71.2},{"s":"NL_L","f":34.3,"db":-73.8},{"s":"NL_L","f":34.7,"db":-74.7},{"s":"NL_L","f":35,"db":-68.6},{"s":"NL_L","f":35.6,"db":-66.8},{"s":"NL_L","f":36,"db":-63.4},{"s":"NL_L","f":36.3,"db":-66.8},{"s":"NL_L","f":36.7,"db":-62.1},{"s":"NL_L","f":37.1,"db":-61.6},{"s":"NL_L","f":37.5,"db":-61.2},{"s":"NL_L","f":37.8,"db":-57.3},{"s":"NL_L","f":38.2,"db":-60.8},{"s":"NL_L","f":38.6,"db":-59.5},{"s":"NL_L","f":38.96,"db":-62.5},{"s":"NL_L","f":39.25,"db":-66},{"s":"NL_L","f":39.5,"db":-62.1},{"s":"NL_L","f":39.9,"db":-64.7},{"s":"NL_L","f":40.3,"db":-67.3},{"s":"NL_L","f":40.8,"db":-66},{"s":"NL_L","f":41.2,"db":-70.3},{"s":"NL_L","f":41.6,"db":-68.6},{"s":"NL_L","f":41.9,"db":-71.2},{"s":"NL_L","f":42.5,"db":-72},{"s":"NL_L","f":42.9,"db":-71.2},{"s":"NL_L","f":43.2,"db":-74.7},{"s":"NL_L","f":43.6,"db":-72},{"s":"NL_L","f":44,"db":-79.9},{"s":"NL_L","f":44.4,"db":-75.1},{"s":"NL_L","f":44.7,"db":-76.4},{"s":"NL_L","f":45.3,"db":-76},{"s":"NL_L","f":45.9,"db":-80.3},{"s":"NL_L","f":46.2,"db":-77.3},{"s":"NL_L","f":46.8,"db":-76},{"s":"NL_L","f":47.35,"db":-76.8},{"s":"NL_L","f":47.9,"db":-76.4},{"s":"NL_L","f":48.5,"db":-79},{"s":"NL_L","f":49,"db":-79},{"s":"NL_L","f":49.5,"db":-84.2},{"s":"NL_L","f":50,"db":-82.5}
],
"p4": [
{"s":"FRF_L","f":1.25,"db":-62.3},{"s":"FRF_L","f":1.43,"db":-64.9},{"s":"FRF_L","f":1.7,"db":-55.3},{"s":"FRF_L","f":2.08,"db":-46.6},{"s":"FRF_L","f":2.45,"db":-37},{"s":"FRF_L","f":2.75,"db":-30.9},{"s":"FRF_L","f":2.98,"db":-38.7},{"s":"FRF_L","f":3.2,"db":-44},{"s":"FRF_L","f":3.6,"db":-49.2},{"s":"FRF_L","f":3.9,"db":-51.8},{"s":"FRF_L","f":4.1,"db":-54.4},{"s":"FRF_L","f":4.34,"db":-50.9},{"s":"FRF_L","f":4.6,"db":-42.7},{"s":"FRF_L","f":4.9,"db":-45.7},{"s":"FRF_L","f":5.4,"db":-48.3},{"s":"FRF_L","f":6.15,"db":-50.5},{"s":"FRF_L","f":6.9,"db":-52.7},{"s":"FRF_L","f":7.66,"db":-54.9},{"s":"FRF_L","f":8.2,"db":-57.9},{"s":"FRF_L","f":8.7,"db":-64},{"s":"FRF_L","f":9.1,"db":-70.1},{"s":"FRF_L","f":9.36,"db":-68.4},{"s":"FRF_L","f":9.74,"db":-60.5},{"s":"FRF_L","f":10.2,"db":-52.7},{"s":"FRF_L","f":10.7,"db":-44},{"s":"FRF_L","f":11.06,"db":-34.4},{"s":"FRF_L","f":11.3,"db":-26.5},{"s":"FRF_L","f":11.6,"db":-33.5},{"s":"FRF_L","f":12,"db":-39.6},{"s":"FRF_L","f":12.6,"db":-42.7},{"s":"FRF_L","f":13.3,"db":-44.8},{"s":"FRF_L","f":14.1,"db":-46.6},{"s":"FRF_L","f":14.8,"db":-47.9},{"s":"FRF_L","f":15.1,"db":-48.3},{"s":"FRF_L","f":15.4,"db":-47},{"s":"FRF_L","f":16.15,"db":-47},{"s":"FRF_L","f":17.1,"db":-48.3},{"s":"FRF_L","f":17.85,"db":-49.6},{"s":"FRF_L","f":19,"db":-50.1},{"s":"FRF_L","f":20.1,"db":-50.9},{"s":"FRF_L","f":20.5,"db":-51.4},{"s":"FRF_L","f":21.06,"db":-50.5},{"s":"FRF_L","f":21.6,"db":-51.4},{"s":"FRF_L","f":22.4,"db":-52.3},{"s":"FRF_L","f":23.1,"db":-53.1},{"s":"FRF_L","f":23.9,"db":-55.7},{"s":"FRF_L","f":24.6,"db":-60.1},{"s":"FRF_L","f":25.2,"db":-63.2},{"s":"FRF_L","f":25.7,"db":-64.9},{"s":"FRF_L","f":26.15,"db":-61.8},{"s":"FRF_L","f":26.7,"db":-56.2},{"s":"FRF_L","f":27.5,"db":-50.9},{"s":"FRF_L","f":28,"db":-49.2},{"s":"FRF_L","f":28.6,"db":-47},{"s":"FRF_L","f":29,"db":-46.8},{"s":"FRF_L","f":29.5,"db":-47.9},{"s":"FRF_L","f":30.1,"db":-49.6},{"s":"FRF_L","f":30.5,"db":-50.1},{"s":"FRF_L","f":31.05,"db":-49},{"s":"FRF_L","f":31.6,"db":-49.6},{"s":"FRF_L","f":32.2,"db":-50.2},{"s":"FRF_L","f":32.9,"db":-50.2},{"s":"FRF_L","f":33.7,"db":-48.3},{"s":"FRF_L","f":34.3,"db":-44.4},{"s":"FRF_L","f":35,"db":-41.3},{"s":"FRF_L","f":35.8,"db":-39.2},{"s":"FRF_L","f":36.7,"db":-36.5},{"s":"FRF_L","f":37.5,"db":-34.8},{"s":"FRF_L","f":38.4,"db":-33.7},{"s":"FRF_L","f":39,"db":-34.8},{"s":"FRF_L","f":39.9,"db":-36.1},{"s":"FRF_L","f":40.9,"db":-38.3},{"s":"FRF_L","f":42,"db":-42.2},{"s":"FRF_L","f":43.1,"db":-45.7},{"s":"FRF_L","f":44.3,"db":-48.8},{"s":"FRF_L","f":45.4,"db":-50.9},{"s":"FRF_L","f":46.5,"db":-52.7},{"s":"FRF_L","f":47.3,"db":-52.7},{"s":"FRF_L","f":48,"db":-51.8},{"s":"FRF_L","f":48.8,"db":-51.8},{"s":"FRF_L","f":49.3,"db":-51.4},{"s":"FRF_L","f":50,"db":-50.5},
{"s":"NOISE_H","f":1.25,"db":-67.5},{"s":"NOISE_H","f":1.55,"db":-73.2},{"s":"NOISE_H","f":1.9,"db":-72.8},{"s":"NOISE_H","f":2.3,"db":-71},{"s":"NOISE_H","f":2.57,"db":-61.4},{"s":"NOISE_H","f":2.75,"db":-54.4},{"s":"NOISE_H","f":2.94,"db":-68.4},{"s":"NOISE_H","f":3.2,"db":-80.6},{"s":"NOISE_H","f":3.5,"db":-78.9},{"s":"NOISE_H","f":3.9,"db":-78.9},{"s":"NOISE_H","f":4.26,"db":-76.7},{"s":"NOISE_H","f":4.83,"db":-79.3},{"s":"NOISE_H","f":5.4,"db":-80.2},{"s":"NOISE_H","f":6.15,"db":-79.3},{"s":"NOISE_H","f":6.9,"db":-79.7},{"s":"NOISE_H","f":7.66,"db":-79.3},{"s":"NOISE_H","f":8.4,"db":-79.3},{"s":"NOISE_H","f":9.17,"db":-79.3},{"s":"NOISE_H","f":9.74,"db":-78.9},{"s":"NOISE_H","f":10.3,"db":-78.4},{"s":"NOISE_H","f":10.7,"db":-76.2},{"s":"NOISE_H","f":11.06,"db":-71},{"s":"NOISE_H","f":11.3,"db":-69.3},{"s":"NOISE_H","f":11.5,"db":-78},{"s":"NOISE_H","f":11.8,"db":-82.8},{"s":"NOISE_H","f":12.2,"db":-82.4},{"s":"NOISE_H","f":12.9,"db":-81.5},{"s":"NOISE_H","f":13.9,"db":-80.8},{"s":"NOISE_H","f":14.8,"db":-80.6},{"s":"NOISE_H","f":15.96,"db":-80.6},{"s":"NOISE_H","f":17.1,"db":-80.4},{"s":"NOISE_H","f":18.2,"db":-80.2},{"s":"NOISE_H","f":19.4,"db":-79.9},{"s":"NOISE_H","f":20.5,"db":-79.6},{"s":"NOISE_H","f":21.6,"db":-79.7},{"s":"NOISE_H","f":22.75,"db":-79.6},{"s":"NOISE_H","f":23.9,"db":-79.7},{"s":"NOISE_H","f":25,"db":-79.3},{"s":"NOISE_H","f":26.15,"db":-79.1},{"s":"NOISE_H","f":27.3,"db":-78.7},{"s":"NOISE_H","f":28.4,"db":-78.7},{"s":"NOISE_H","f":29.5,"db":-78.9},{"s":"NOISE_H","f":30.7,"db":-78.7},{"s":"NOISE_H","f":31.8,"db":-78.2},{"s":"NOISE_H","f":32.9,"db":-78},{"s":"NOISE_H","f":34.1,"db":-77.6},{"s":"NOISE_H","f":35.2,"db":-76.9},{"s":"NOISE_H","f":36.3,"db":-76.2},{"s":"NOISE_H","f":37.5,"db":-75.8},{"s":"NOISE_H","f":38,"db":-76.7},{"s":"NOISE_H","f":38.6,"db":-77.1},{"s":"NOISE_H","f":39.2,"db":-78.9},{"s":"NOISE_H","f":39.7,"db":-79.9},{"s":"NOISE_H","f":40.7,"db":-80.2},{"s":"NOISE_H","f":41.2,"db":-79.9},{"s":"NOISE_H","f":41.8,"db":-79.7},{"s":"NOISE_H","f":42.4,"db":-78.4},{"s":"NOISE_H","f":43.5,"db":-77.8},{"s":"NOISE_H","f":45,"db":-77.6},{"s":"NOISE_H","f":46.5,"db":-77.6},{"s":"NOISE_H","f":48,"db":-77.3},{"s":"NOISE_H","f":50,"db":-76.9},
{"s":"NL_L","f":1.25,"db":-75.8},{"s":"NL_L","f":1.6,"db":-92},{"s":"NL_L","f":1.9,"db":-86.7},{"s":"NL_L","f":2.15,"db":-80.6},{"s":"NL_L","f":2.38,"db":-83.2},{"s":"NL_L","f":2.57,"db":-75.4},{"s":"NL_L","f":2.75,"db":-57.5},{"s":"NL_L","f":2.94,"db":-70.1},{"s":"NL_L","f":3.13,"db":-83.2},{"s":"NL_L","f":3.43,"db":-88.5},{"s":"NL_L","f":3.7,"db":-83.2},{"s":"NL_L","f":4.08,"db":-87.6},{"s":"NL_L","f":4.34,"db":-80.6},{"s":"NL_L","f":4.53,"db":-73.6},{"s":"NL_L","f":4.83,"db":-82.4},{"s":"NL_L","f":5.1,"db":-92.8},{"s":"NL_L","f":5.4,"db":-86.7},{"s":"NL_L","f":5.7,"db":-95.9},{"s":"NL_L","f":6.04,"db":-101.1},{"s":"NL_L","f":6.34,"db":-87.2},{"s":"NL_L","f":6.7,"db":-91.1},{"s":"NL_L","f":7,"db":-88},{"s":"NL_L","f":7.3,"db":-100.7},{"s":"NL_L","f":7.6,"db":-87.2},{"s":"NL_L","f":7.96,"db":-85},{"s":"NL_L","f":8.2,"db":-91.1},{"s":"NL_L","f":8.5,"db":-86.7},{"s":"NL_L","f":8.8,"db":-94.1},{"s":"NL_L","f":9.1,"db":-84.1},{"s":"NL_L","f":9.36,"db":-80.6},{"s":"NL_L","f":9.55,"db":-84.1},{"s":"NL_L","f":9.85,"db":-78},{"s":"NL_L","f":10.1,"db":-68.4},{"s":"NL_L","f":10.4,"db":-70.1},{"s":"NL_L","f":10.7,"db":-66.6},{"s":"NL_L","f":11,"db":-61.4},{"s":"NL_L","f":11.17,"db":-52.7},{"s":"NL_L","f":11.36,"db":-49.6},{"s":"NL_L","f":11.6,"db":-57.9},{"s":"NL_L","f":12,"db":-65.8},{"s":"NL_L","f":12.4,"db":-70.1},{"s":"NL_L","f":12.75,"db":-75.4},{"s":"NL_L","f":13.1,"db":-77.1},{"s":"NL_L","f":13.5,"db":-77.1},{"s":"NL_L","f":13.9,"db":-78},{"s":"NL_L","f":14.3,"db":-90.6},{"s":"NL_L","f":14.5,"db":-80.6},{"s":"NL_L","f":14.8,"db":-82.4},{"s":"NL_L","f":15.1,"db":-78},{"s":"NL_L","f":15.5,"db":-80.6},{"s":"NL_L","f":15.9,"db":-84.1},{"s":"NL_L","f":16.3,"db":-76.7},{"s":"NL_L","f":16.6,"db":-78.9},{"s":"NL_L","f":17,"db":-83.2},{"s":"NL_L","f":17.4,"db":-80.6},{"s":"NL_L","f":17.8,"db":-85},{"s":"NL_L","f":18.15,"db":-80.6},{"s":"NL_L","f":18.5,"db":-83.2},{"s":"NL_L","f":19,"db":-77.1},{"s":"NL_L","f":19.36,"db":-81.5},{"s":"NL_L","f":19.7,"db":-78.9},{"s":"NL_L","f":20.1,"db":-80.6},{"s":"NL_L","f":20.5,"db":-83.2},{"s":"NL_L","f":20.8,"db":-75.4},{"s":"NL_L","f":21.2,"db":-75.4},{"s":"NL_L","f":21.6,"db":-78},{"s":"NL_L","f":22,"db":-75.4},{"s":"NL_L","f":22.4,"db":-78.9},{"s":"NL_L","f":22.75,"db":-85.8},{"s":"NL_L","f":23.1,"db":-80.6},{"s":"NL_L","f":23.5,"db":-91.1},{"s":"NL_L","f":23.9,"db":-83.2},{"s":"NL_L","f":24.26,"db":-87.6},{"s":"NL_L","f":24.6,"db":-84.1},{"s":"NL_L","f":25,"db":-90.2},{"s":"NL_L","f":25.4,"db":-86.7},{"s":"NL_L","f":25.8,"db":-96.8},{"s":"NL_L","f":26.1,"db":-85.8},{"s":"NL_L","f":26.3,"db":-87.6},{"s":"NL_L","f":26.6,"db":-90.2},{"s":"NL_L","f":26.9,"db":-85},{"s":"NL_L","f":27.3,"db":-87.6},{"s":"NL_L","f":27.5,"db":-79.7},{"s":"NL_L","f":27.85,"db":-78.9},{"s":"NL_L","f":28.2,"db":-78.4},{"s":"NL_L","f":28.6,"db":-72.8},{"s":"NL_L","f":28.98,"db":-73.6},{"s":"NL_L","f":29.36,"db":-72.3},{"s":"NL_L","f":29.6,"db":-77.1},{"s":"NL_L","f":29.9,"db":-71.9},{"s":"NL_L","f":30.3,"db":-74.5},{"s":"NL_L","f":30.7,"db":-72.3},{"s":"NL_L","f":31,"db":-73.6},{"s":"NL_L","f":31.4,"db":-78},{"s":"NL_L","f":31.8,"db":-71},{"s":"NL_L","f":32.2,"db":-70.1},{"s":"NL_L","f":32.6,"db":-74.5},{"s":"NL_L","f":32.9,"db":-71.9},{"s":"NL_L","f":33.4,"db":-66.6},{"s":"NL_L","f":33.7,"db":-73.6},{"s":"NL_L","f":34.1,"db":-70.1},{"s":"NL_L","f":34.6,"db":-70.1},{"s":"NL_L","f":35.2,"db":-66.6},{"s":"NL_L","f":35.8,"db":-67.1},{"s":"NL_L","f":36.3,"db":-61.4},{"s":"NL_L","f":36.9,"db":-61.4},{"s":"NL_L","f":37.3,"db":-60.5},{"s":"NL_L","f":37.66,"db":-57.5},{"s":"NL_L","f":38,"db":-57.9},{"s":"NL_L","f":38.2,"db":-62.3},{"s":"NL_L","f":38.5,"db":-55.3},{"s":"NL_L","f":38.9,"db":-57.1},{"s":"NL_L","f":39.4,"db":-57.9},{"s":"NL_L","f":39.7,"db":-62.3},{"s":"NL_L","f":40.1,"db":-63.2},{"s":"NL_L","f":40.7,"db":-64},{"s":"NL_L","f":41.06,"db":-69.3},{"s":"NL_L","f":41.4,"db":-66.6},{"s":"NL_L","f":41.9,"db":-65.8},{"s":"NL_L","f":42.3,"db":-69.3},{"s":"NL_L","f":42.6,"db":-71.9},{"s":"NL_L","f":42.9,"db":-68.4},{"s":"NL_L","f":43.5,"db":-69.3},{"s":"NL_L","f":44,"db":-71.9},{"s":"NL_L","f":44.5,"db":-72.8},{"s":"NL_L","f":44.8,"db":-75.4},{"s":"NL_L","f":45.4,"db":-69.7},{"s":"NL_L","f":45.8,"db":-73.6},{"s":"NL_L","f":46.3,"db":-79.7},{"s":"NL_L","f":46.7,"db":-76.2},{"s":"NL_L","f":47.1,"db":-73.6},{"s":"NL_L","f":47.5,"db":-75.4},{"s":"NL_L","f":47.9,"db":-78},{"s":"NL_L","f":48.3,"db":-75.4},{"s":"NL_L","f":48.7,"db":-78.9},{"s":"NL_L","f":49.1,"db":-74.5},{"s":"NL_L","f":49.5,"db":-78.9},{"s":"NL_L","f":49.7,"db":-77.1},{"s":"NL_L","f":50,"db":-80.6}
]
},
"config": {
"font": "Liberation Serif",
"view": {"stroke": null},
"axis": {"labelFont": "Liberation Serif", "labelFontSize": 20, "labelColor": "#262626", "titleFont": "Liberation Serif", "titleFontSize": 21, "titleFontWeight": "normal", "titleColor": "#262626", "domainColor": "#262626", "domainWidth": 1, "ticks": false, "grid": true, "gridColor": "#e3e3e3", "gridWidth": 1},
"axisX": {"labelPadding": 11, "titlePadding": 5},
"axisY": {"labelPadding": 8, "titlePadding": 10},
"title": {"font": "Liberation Serif", "fontSize": 21, "fontWeight": "bold", "color": "#000000", "offset": 5, "frame": "group", "anchor": "middle"},
"legend": {"labelFont": "Liberation Serif", "labelFontSize": 14.4, "labelColor": "#000000", "labelLimit": 320, "padding": 4, "rowPadding": 1.8, "strokeColor": "#6e6e6e", "fillColor": "#ffffff", "symbolType": "M-4.5,0H4.5", "symbolSize": 100, "symbolOffset": 25.3, "labelOffset": 20.3}
},
"vconcat": [
{"hconcat": [
{"title": "FRF LWG:DP1:-Z/LWG:F1:+Z [g/N]", "width": 449, "height": 353, "data": {"name": "p1"},
 "mark": {"type": "line", "strokeJoin": "round"},
 "encoding": {
  "x": {"field": "f", "type": "quantitative", "scale": {"domain": [1.2, 50], "nice": false, "zero": false}, "axis": {"title": "Frequency (Hz)", "values": [10, 20, 30, 40, 50]}},
  "y": {"field": "db", "type": "quantitative", "scale": {"domain": [-115.3, -22.9], "nice": false, "zero": false}, "axis": {"title": "Amplitude (dB)", "values": [-110, -100, -90, -80, -70, -60, -50, -40, -30], "labelExpr": "datum.value + ''"}},
  "color": {"field": "s", "type": "nominal", "scale": {"domain": ["FRF_H", "NOISE_H", "NL_H", "FRF_L", "NOISE_L", "NL_L"], "range": ["#000000", "#505050", "#b22222", "#5c5c5c", "#b4b4b4", "#ff0000"]}, "legend": {"orient": "none", "legendX": 400, "legendY": 386, "title": null, "labelExpr": "datum.label == 'FRF_H' ? 'FRF - high level excitation' : datum.label == 'NOISE_H' ? 'Noise - high level excitation' : datum.label == 'NL_H' ? 'Nonlinearity - high level excitation' : datum.label == 'FRF_L' ? 'FRF - low level excitation' : datum.label == 'NOISE_L' ? 'Noise - low level excitation' : 'Nonlinearity - low level excitation'"}},
  "strokeWidth": {"field": "s", "type": "nominal", "scale": {"type": "ordinal", "domain": ["FRF_H", "NOISE_H", "NL_H", "FRF_L", "NOISE_L", "NL_L"], "range": [3, 2, 2, 3.6, 1, 1.6]}, "legend": {"orient": "none", "legendX": 400, "legendY": 386, "title": null, "labelExpr": "datum.label == 'FRF_H' ? 'FRF - high level excitation' : datum.label == 'NOISE_H' ? 'Noise - high level excitation' : datum.label == 'NL_H' ? 'Nonlinearity - high level excitation' : datum.label == 'FRF_L' ? 'FRF - low level excitation' : datum.label == 'NOISE_L' ? 'Noise - low level excitation' : 'Nonlinearity - low level excitation'"}}
 }},
{"title": "FRF LWG:DP1:-Z/RWG:F2:+Z [g/N]", "width": 449, "height": 353, "data": {"name": "p2"},
 "mark": {"type": "line", "strokeJoin": "round"},
 "encoding": {
  "x": {"field": "f", "type": "quantitative", "scale": {"domain": [1.2, 50], "nice": false, "zero": false}, "axis": {"title": "Frequency (Hz)", "values": [10, 20, 30, 40, 50]}},
  "y": {"field": "db", "type": "quantitative", "scale": {"domain": [-115.3, -22.9], "nice": false, "zero": false}, "axis": {"title": "Amplitude (dB)", "values": [-110, -100, -90, -80, -70, -60, -50, -40, -30], "labelExpr": "datum.value + ''"}},
  "color": {"field": "s", "type": "nominal", "scale": {"domain": ["FRF_H", "NOISE_H", "NL_H", "FRF_L", "NOISE_L", "NL_L"], "range": ["#000000", "#505050", "#b22222", "#5c5c5c", "#b4b4b4", "#ff0000"]}, "legend": {"orient": "none", "legendX": 400, "legendY": 386, "title": null}},
  "strokeWidth": {"field": "s", "type": "nominal", "scale": {"type": "ordinal", "domain": ["FRF_H", "NOISE_H", "NL_H", "FRF_L", "NOISE_L", "NL_L"], "range": [3, 2, 2, 3.6, 1, 1.6]}, "legend": {"orient": "none", "legendX": 400, "legendY": 386, "title": null}}
 }}
], "spacing": 139},
{"hconcat": [
{"title": "FRF RWG:DP2:-Z/LWG:F1:+Z [g/N]", "width": 449, "height": 353, "data": {"name": "p3"},
 "mark": {"type": "line", "strokeJoin": "round"},
 "encoding": {
  "x": {"field": "f", "type": "quantitative", "scale": {"domain": [1.2, 50], "nice": false, "zero": false}, "axis": {"title": "Frequency (Hz)", "values": [10, 20, 30, 40, 50]}},
  "y": {"field": "db", "type": "quantitative", "scale": {"domain": [-115.3, -22.9], "nice": false, "zero": false}, "axis": {"title": "Amplitude (dB)", "values": [-110, -100, -90, -80, -70, -60, -50, -40, -30], "labelExpr": "datum.value + ''"}},
  "color": {"field": "s", "type": "nominal", "scale": {"domain": ["FRF_H", "NOISE_H", "NL_H", "FRF_L", "NOISE_L", "NL_L"], "range": ["#000000", "#505050", "#b22222", "#5c5c5c", "#b4b4b4", "#ff0000"]}, "legend": {"orient": "none", "legendX": 400, "legendY": 386, "title": null}},
  "strokeWidth": {"field": "s", "type": "nominal", "scale": {"type": "ordinal", "domain": ["FRF_H", "NOISE_H", "NL_H", "FRF_L", "NOISE_L", "NL_L"], "range": [3, 2, 2, 3.6, 1, 1.6]}, "legend": {"orient": "none", "legendX": 400, "legendY": 386, "title": null}}
 }},
{"title": "FRF RWG:DP2:-Z/RWG:F2:+Z [g/N]", "width": 449, "height": 353, "data": {"name": "p4"},
 "mark": {"type": "line", "strokeJoin": "round"},
 "encoding": {
  "x": {"field": "f", "type": "quantitative", "scale": {"domain": [1.2, 50], "nice": false, "zero": false}, "axis": {"title": "Frequency (Hz)", "values": [10, 20, 30, 40, 50]}},
  "y": {"field": "db", "type": "quantitative", "scale": {"domain": [-115.3, -22.9], "nice": false, "zero": false}, "axis": {"title": "Amplitude (dB)", "values": [-110, -100, -90, -80, -70, -60, -50, -40, -30], "labelExpr": "datum.value + ''"}},
  "color": {"field": "s", "type": "nominal", "scale": {"domain": ["FRF_H", "NOISE_H", "NL_H", "FRF_L", "NOISE_L", "NL_L"], "range": ["#000000", "#505050", "#b22222", "#5c5c5c", "#b4b4b4", "#ff0000"]}, "legend": {"orient": "none", "legendX": 400, "legendY": 386, "title": null}},
  "strokeWidth": {"field": "s", "type": "nominal", "scale": {"type": "ordinal", "domain": ["FRF_H", "NOISE_H", "NL_H", "FRF_L", "NOISE_L", "NL_L"], "range": [3, 2, 2, 3.6, 1, 1.6]}, "legend": {"orient": "none", "legendX": 400, "legendY": 386, "title": null}}
 }}
], "spacing": 139}
],
"spacing": 68
}
